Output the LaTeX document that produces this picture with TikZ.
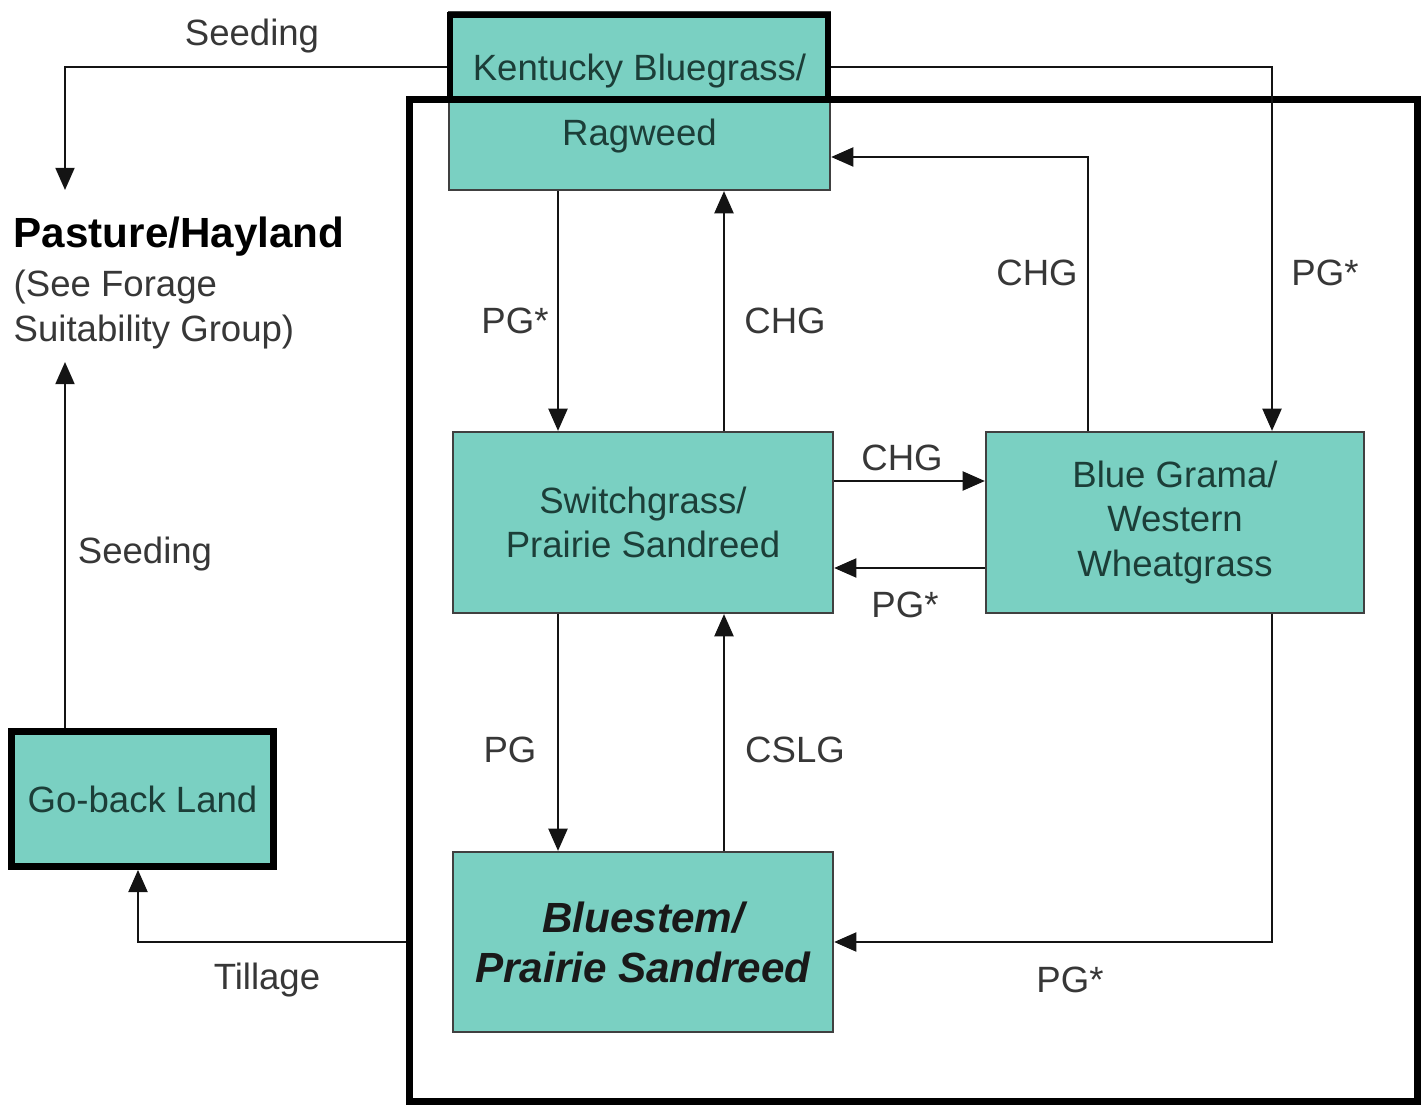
\documentclass[tikz,border=0pt]{standalone}
\usepackage{fontspec}
\setmainfont{Liberation Sans}
\usetikzlibrary{arrows.meta,calc}
\definecolor{teal1}{RGB}{122,208,194}
\definecolor{boxtext}{RGB}{28,62,56}
\definecolor{linec}{RGB}{20,20,20}
\begin{document}
\begin{tikzpicture}[x=0.01cm,y=-0.01cm,
  box/.style={draw=black!75, line width=0.6pt, fill=teal1, text=boxtext, align=center, inner sep=0pt, font=\fontsize{10.4}{12.3}\selectfont},
  boxtxt/.style={text=boxtext, inner sep=0pt, font=\fontsize{10.4}{12.3}\selectfont},
  thickbox/.style={draw=black, line width=1.9pt, inner sep=0pt},
  arr/.style={draw=linec, line width=0.6pt, -{Triangle[length=6.3pt,width=5.4pt]}},
  lbl/.style={text=linec!85, font=\fontsize{10.4}{12.3}\selectfont, inner sep=0pt, yshift=-0.8pt}]
\useasboundingbox (0,0) rectangle (1425,1107);

% column / row helpers
\coordinate (colA) at (558,0);
\coordinate (colB) at (724,0);
\coordinate (colC) at (1088,0);
\coordinate (colD) at (1272,0);
\coordinate (colE) at (138,0);
\coordinate (rowT) at (0,67);
\coordinate (rowK) at (0,157);
\coordinate (rowA) at (0,481);
\coordinate (rowB) at (0,568);
\coordinate (pTop) at (65,190);
\coordinate (sTop) at (65,362);

% boxes
\node[box, minimum width=3.81cm, minimum height=1.78cm] (kb) at (639.5,101) {};
\node[draw=black, line width=1.9pt, minimum width=10.07cm, minimum height=10.01cm, inner sep=0pt] (frame) at (913.5,600.5) {};
\node[thickbox, minimum width=3.78cm, minimum height=0.85cm] (kbtop) at (639,57.5) {};
\node[boxtxt] (kbt1) at (639.5,71) {Kentucky Bluegrass/};
\node[boxtxt] (kbt2) at (639.5,136) {Ragweed};

\node[box, minimum width=3.80cm, minimum height=1.81cm] (sw) at (643,522.5) {Switchgrass/\\Prairie Sandreed};
\node[box, minimum width=3.78cm, minimum height=1.81cm, font=\fontsize{10.4}{12.6}\selectfont] (bg) at (1175,522.5) {Blue Grama/\\Western\\Wheatgrass};
\node[box, minimum width=3.80cm, minimum height=1.80cm, text=black!90, font=\fontsize{12}{14.2}\selectfont\bfseries\itshape] (bs) at (643,942) {Bluestem/\\Prairie Sandreed};
\node[box, draw=black, line width=1.9pt, minimum width=2.62cm, minimum height=1.35cm] (gb) at (142.5,799) {Go-back Land};

% pasture text
\node[anchor=base west, inner sep=0pt, font=\fontsize{12}{14}\selectfont\bfseries] (p1) at (13,248) {Pasture/Hayland};
\node[anchor=base west, lbl] (p2) at (13,294) {(See Forage};
\node[anchor=base west, lbl] (p3) at (13,339) {Suitability Group)};

% connectors
\draw[arr] (kbtop.west |- rowT) -| (pTop);
\draw[arr] (kbtop.east |- rowT) -| (bg.north -| colD);
\draw[arr] (kb.south -| colA) -- (sw.north -| colA);
\draw[arr] (sw.north -| colB) -- (kb.south -| colB);
\draw[arr] (bg.north -| colC) |- (kb.east |- rowK);
\draw[arr] (sw.east |- rowA) -- (bg.west |- rowA);
\draw[arr] (bg.west |- rowB) -- (sw.east |- rowB);
\draw[arr] (sw.south -| colA) -- (bs.north -| colA);
\draw[arr] (bs.north -| colB) -- (sw.south -| colB);
\draw[arr] (bg.south -| colD) |- (bs.east);
\draw[arr] (frame.west |- bs.east) -| (gb.south -| colE);
\draw[arr] (gb.north -| sTop) -- (sTop);

% labels
\node[lbl] (l1) at (252,33) {Seeding};
\node[lbl] (l2) at (1325,270) {PG*};
\node[lbl] (l3) at (515,318) {PG*};
\node[lbl] (l4) at (785,318) {CHG};
\node[lbl] (l5) at (1037,270) {CHG};
\node[lbl] (l6) at (902,455) {CHG};
\node[lbl] (l7) at (905,602) {PG*};
\node[lbl] (l8) at (510,747) {PG};
\node[lbl] (l9) at (795,747) {CSLG};
\node[lbl] (l10) at (1070,977) {PG*};
\node[lbl] (l11) at (267,977) {Tillage};
\node[lbl] (l12) at (145,551) {Seeding};
\end{tikzpicture}
\end{document}
